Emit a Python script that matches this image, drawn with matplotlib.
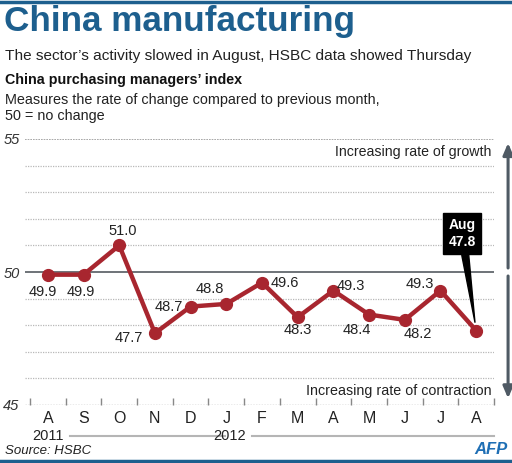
import matplotlib
matplotlib.use("Agg")
import matplotlib.pyplot as plt
import matplotlib.transforms as mtransforms
import numpy as np

plt.rcParams['font.family'] = ['Liberation Sans', 'DejaVu Sans']

months = ['A', 'S', 'O', 'N', 'D', 'J', 'F', 'M', 'A', 'M', 'J', 'J', 'A']
pmi = [49.9, 49.9, 51.0, 47.7, 48.7, 48.8, 49.6, 48.3, 49.3, 48.4, 48.2, 49.3, 47.8]
years = ['2011', '2012']
year_start = [0, 5]
# label offsets in pixels for each value label (last one gets the callout)
label_off = [(-5, -17), (-3, -17), (3, 14), (-26, -5), (-22, 0), (-16, 15),
             (23, 0), (0, -13), (17, 5), (-12, -15), (13, -14), (-21, 7)]

blue = '#1d5f8e'
red = '#a8262f'
grey = '#555b61'

fig = plt.figure(figsize=(5.12, 4.63), dpi=100)
W, H = 512, 463

# top and bottom blue rules
fig.add_artist(plt.Line2D([0, 1], [1 - 1.5 / H, 1 - 1.5 / H], color=blue, lw=2.5))
fig.add_artist(plt.Line2D([0, 1], [2 / H, 2 / H], color=blue, lw=2.5))

fig.text(4 / W, 1 - 21 / H, 'China manufacturing', fontsize=25.3, fontweight='bold',
         color=blue, va='center')
fig.text(5 / W, 1 - 56 / H, 'The sector\u2019s activity slowed in August, HSBC data showed Thursday',
         fontsize=11.05, va='center', color='#222222')
fig.text(5 / W, 1 - 80 / H, 'China purchasing managers\u2019 index', fontsize=10.3,
         fontweight='bold', va='center', color='#111111')
fig.text(5 / W, 1 - 100 / H, 'Measures the rate of change compared to previous month,',
         fontsize=10.4, va='center', color='#222222')
fig.text(5 / W, 1 - 116 / H, '50 = no change', fontsize=10.4, va='center', color='#222222')

fig.text(5 / W, 1 - 451 / H, 'Source: HSBC', fontsize=9.5, style='italic', va='center',
         color='#222222')
fig.text(508 / W, 1 - 450 / H, 'AFP', fontsize=12, style='italic', fontweight='heavy',
         color='#1f6fb5', va='center', ha='right')

ax = fig.add_axes([25 / W, 1 - 405 / H, 469 / W, 266 / H])
x = np.arange(len(months))
ax.set_xlim(-0.64, len(months) - 0.5)
ax.set_ylim(45, 55)

for v in range(46, 55):
    if v == 50:
        continue
    ax.axhline(v, color='#b8b8b8', lw=0.9, ls=(0, (1, 1)), zorder=1)
ax.axhline(55, color='#9a9a9a', lw=1.2, ls=(0, (1, 0.6)), zorder=1)
ax.axhline(45, color='#9a9a9a', lw=1.0, ls=(0, (1, 1)), zorder=1)
ax.axhline(50, color=grey, lw=1.2, zorder=1)

for s in ax.spines.values():
    s.set_visible(False)

ax.plot(x, pmi, color=red, lw=3.2, marker='o', ms=8.5, zorder=3)

for i in range(len(pmi) - 1):
    ax.annotate(f'{pmi[i]:.1f}', (x[i], pmi[i]), xytext=label_off[i],
                textcoords='offset pixels', ha='center', va='center',
                fontsize=10.5, color='#222222', zorder=4)

# callout for latest value
ax.annotate(f'Aug\n{pmi[-1]:.1f}', (x[-1], pmi[-1]), xytext=(-14, 97),
            textcoords='offset pixels', ha='center', va='center', fontsize=10,
            fontweight='bold', color='white', linespacing=1.25,
            bbox=dict(boxstyle='square,pad=0.4', fc='black', ec='black'),
            arrowprops=dict(arrowstyle='wedge,tail_width=0.5', fc='black', ec='black',
                            shrinkA=0, shrinkB=6), zorder=5)

# axes ticks
ax.set_yticks([45, 50, 55])
ax.set_yticklabels(['45', '50', '55'], fontsize=10.5, style='italic', color='#333333')
ax.tick_params(axis='y', length=0, pad=4)
ax.set_xticks(x)
ax.set_xticklabels(months, fontsize=11.5, color='#222222')
ax.set_xticks(np.arange(len(months) + 1) - 0.5, minor=True)
ax.tick_params(axis='x', which='major', length=0, pad=4)
ax.tick_params(axis='x', which='minor', direction='in', length=5, color='#888888', width=1)

# year labels with rule
trans = mtransforms.blended_transform_factory(ax.transData, ax.transAxes)
yy = -(436 - 405) / 266
bounds = year_start + [len(months) - 0.5]
for k, yr in enumerate(years):
    cx = year_start[k] + 0.1 if k == 1 else year_start[k]
    ax.text(cx, yy, yr, transform=trans, ha='center', va='center', fontsize=10.5,
            color='#222222', clip_on=False)
    ax.plot([cx + 0.62, bounds[k + 1] - 0.05 if k == 0 else bounds[k + 1]], [yy, yy],
            transform=trans, color='#b5b5b5', lw=1.5, clip_on=False)

# direction arrows on the right
arrow_c = '#4f5a64'
ax.annotate('', xy=(1.03, 0.985), xytext=(1.03, 0.515), xycoords='axes fraction',
            arrowprops=dict(arrowstyle='-|>,head_width=0.3,head_length=0.7', color=arrow_c,
                            lw=2.2, shrinkA=0, shrinkB=0), annotation_clip=False)
ax.annotate('', xy=(1.03, 0.025), xytext=(1.03, 0.485), xycoords='axes fraction',
            arrowprops=dict(arrowstyle='-|>,head_width=0.3,head_length=0.7', color=arrow_c,
                            lw=2.2, shrinkA=0, shrinkB=0), annotation_clip=False)
ax.text(0.994, 0.951, 'Increasing rate of growth', transform=ax.transAxes, ha='right',
        va='center', fontsize=10.2, color='#222222')
ax.text(0.994, 0.053, 'Increasing rate of contraction', transform=ax.transAxes, ha='right',
        va='center', fontsize=10.3, color='#222222')

fig.savefig('out.png', dpi=100)
